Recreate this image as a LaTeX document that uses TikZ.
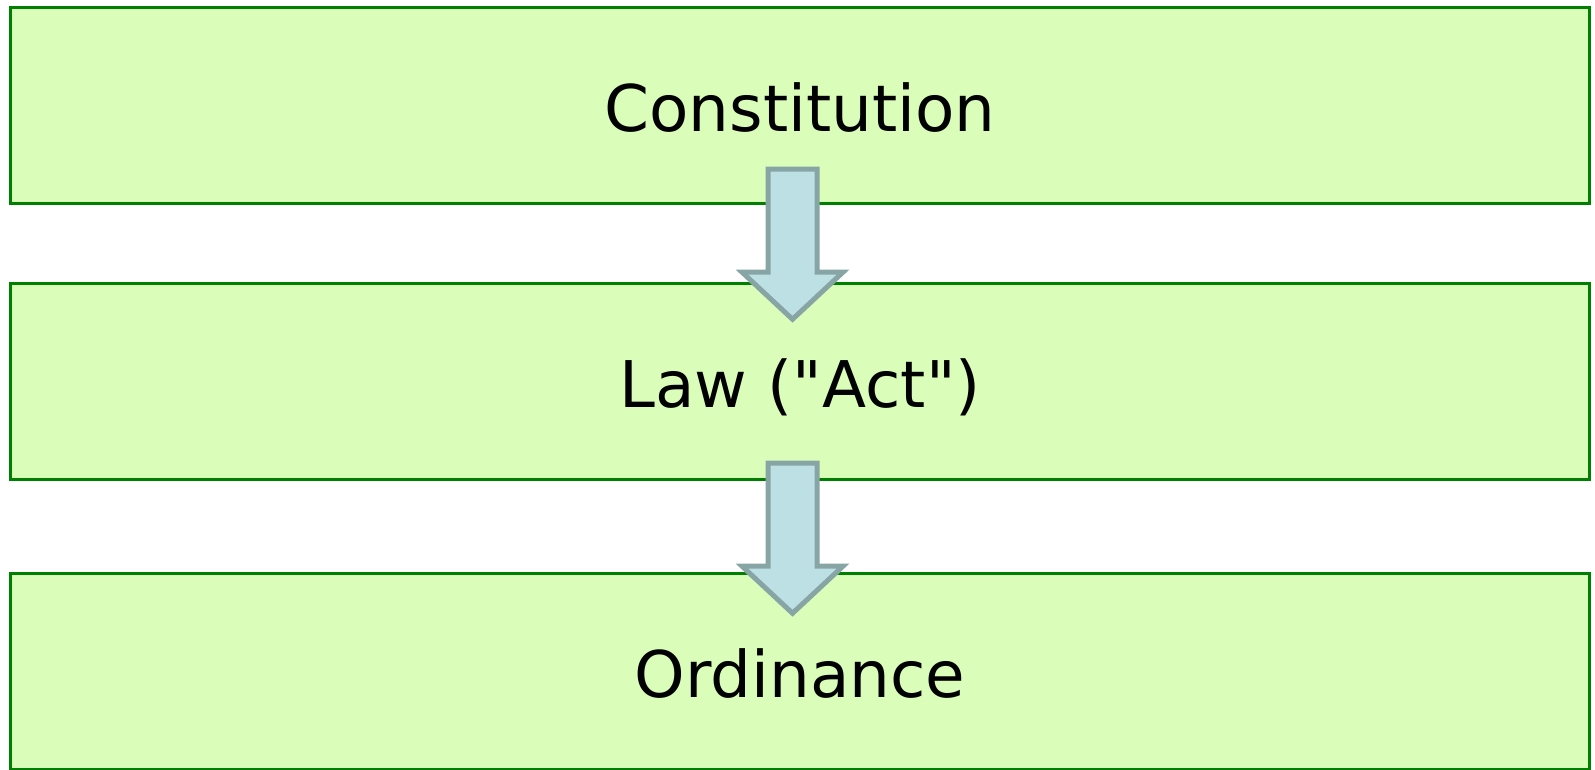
\documentclass[tikz,border=0pt]{standalone}
\usepackage{fontspec}
\setmainfont{DejaVu Sans}[Ligatures = TeXOff]
\usetikzlibrary{shapes.arrows, calc, positioning}

\definecolor{boxfill}{RGB}{218,253,186}
\definecolor{boxline}{RGB}{0,128,0}
\definecolor{arrowfill}{RGB}{189,224,228}
\definecolor{arrowline}{RGB}{136,165,165}

\begin{document}
\begin{tikzpicture}[x = 0.01cm, y = -0.01cm,
		level/.style = { draw = boxline, fill = boxfill, line width = 0.03cm, minimum width = 15.78cm, minimum height = 1.96cm, inner sep = 0, outer sep = 0, text height = 0.52cm, text depth = 0, font = \fontsize{18.3}{22}\selectfont },
		down/.style = { single arrow, draw = arrowline, fill = arrowfill, line width = 0.05cm, rotate = -90, anchor = tip, outer sep = 0, minimum height = 1.5cm, inner xsep = 0, inner ysep = 0.22cm, text height = 0, text depth = 0, text width = 0, single arrow head extend = 0.26cm, single arrow tip angle = 94, single arrow head indent = 0 }]
		\useasboundingbox (0,0) rectangle (1595,769);

		\node [level] (constitution) at (800,105.5) {Constitution};
		\node [level] (law)          at (800,381.3) {Law ("Act")};
		\node [level] (ordinance)    at (800,671.3) {Ordinance};

		% block arrows, placed by their tips, a bit left of the centre line
		\node [down] (arr1) at ($(law.north) + (-7.5,36)$) {};
		\node [down] (arr2) at ($(ordinance.north) + (-7.5,40)$) {};
	\end{tikzpicture}
\end{document}
